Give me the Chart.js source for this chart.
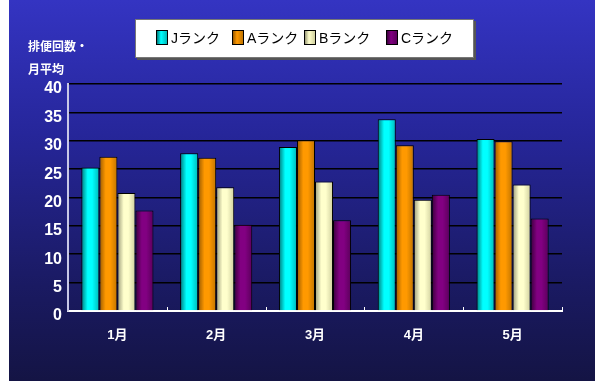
<!DOCTYPE html>
<html lang="ja">
<head>
<meta charset="UTF-8">
<title>排便回数・月平均</title>
<script src="https://cdn.jsdelivr.net/npm/chart.js"></script>
<style>
    html, body { margin: 0; padding: 0; background: #fff; }
    body { width: 595px; height: 381px; position: relative; overflow: hidden; }
    .panel {
        position: absolute; left: 9px; top: 0; width: 586px; height: 381px;
        background: linear-gradient(to bottom, #3434c2 0%, #26269a 35%, #1a1a62 75%, #141444 100%);
    }
    .panel canvas { position: absolute; left: 0; top: 0; }
    .ytitle {
        position: absolute; left: 19px; top: 34px; color: #fff;
        font: bold 12px "Noto Sans CJK JP", sans-serif; line-height: 23px;
    }
    .legend {
        position: absolute; left: 126px; top: 19px; width: 337px; height: 37px;
        background: #fff; border: 1px solid #777; box-shadow: 2px 2px 0 #555;
        font: 14px "Liberation Sans", "Noto Sans CJK JP", sans-serif; color: #000;
    }
    .legend span.item { position: absolute; top: 10px; line-height: 16px; white-space: nowrap; }
    .legend i { display: inline-block; width: 10px; height: 13px; border: 1px solid #000; vertical-align: -2px; margin-right: 3px; }
</style>
</head>
<body>
<div class="panel">
    <canvas id="chart" width="586" height="381"></canvas>
    <div class="ytitle">排便回数・<br>月平均</div>
    <div class="legend" id="legend"></div>
</div>
<script>
    // data
    const months = ['1月', '2月', '3月', '4月', '5月'];
    const seriesNames = ['Jランク', 'Aランク', 'Bランク', 'Cランク'];
    const rankJ = [25.3, 27.8, 28.9, 33.8, 30.3];
    const rankA = [27.2, 27.0, 30.1, 29.2, 29.9];
    const rankB = [20.8, 21.8, 22.8, 19.6, 22.3];
    const rankC = [17.7, 15.2, 16.0, 20.5, 16.3];

    // left shade, highlight, right shade
    const shades = [
        ['#007a7a', '#00ffff', '#00b8b8'],
        ['#9a5a00', '#ff9900', '#c07400'],
        ['#9a9a78', '#ffffcc', '#cfcf9e'],
        ['#3a003a', '#820082', '#5a005a']
    ];

    function barFill(i) {
        return function(ctx) {
            const el = ctx.element;
            if (!el || !el.width) return shades[i][1];
            const c = ctx.chart.ctx;
            const x0 = el.x - el.width / 2;
            const g = c.createLinearGradient(x0, 0, x0 + el.width, 0);
            g.addColorStop(0, shades[i][0]);
            g.addColorStop(0.35, shades[i][1]);
            g.addColorStop(0.6, shades[i][1]);
            g.addColorStop(1, shades[i][2]);
            return g;
        };
    }

    // legend box
    const legendPos = [20, 96, 168, 250];
    const legend = document.getElementById('legend');
    seriesNames.forEach((name, i) => {
        const s = document.createElement('span');
        s.className = 'item';
        s.style.left = legendPos[i] + 'px';
        s.innerHTML = '<i style="background: linear-gradient(to right,' + shades[i][0] + ',' + shades[i][1] + ' 40%,' + shades[i][2] + ')"></i>' + name;
        legend.appendChild(s);
    });

    // little upward ticks between months on the bottom axis
    const innerTicks = {
        id: 'innerTicks',
        afterDraw(chart) {
            const x = chart.scales.x, c = chart.ctx, y = chart.chartArea.bottom;
            c.save();
            c.strokeStyle = '#ffffff';
            c.lineWidth = 1;
            for (let k = 1; k <= months.length; k++) {
                const px = Math.round(x.getPixelForValue(k - 0.5)) + 0.5;
                c.beginPath();
                c.moveTo(px, y);
                c.lineTo(px, y - 4);
                c.stroke();
            }
            c.restore();
        }
    };

    const data = [rankJ, rankA, rankB, rankC];
    const chart = new Chart(document.getElementById('chart'), {
        type: 'bar',
        data: {
            labels: months,
            datasets: data.map((d, i) => ({
                label: seriesNames[i],
                data: d,
                backgroundColor: barFill(i),
                borderColor: '#000',
                borderWidth: 1,
                barPercentage: 1.0,
                categoryPercentage: 0.73
            }))
        },
        plugins: [innerTicks],
        options: {
            responsive: false,
            animation: false,
            layout: { padding: { top: 84, right: 33, left: 0, bottom: 0 } },
            plugins: { legend: { display: false }, tooltip: { enabled: false } },
            scales: {
                x: {
                    grid: { display: false },
                    border: { color: '#ffffff', width: 2 },
                    ticks: { color: '#fff', font: { family: '"Liberation Sans", "Noto Sans CJK JP"', size: 13, weight: 'bold' }, padding: 9 },
                    afterFit(s) { s.height = 70; }
                },
                y: {
                    min: 0, max: 40,
                    ticks: { stepSize: 5, color: '#fff', padding: 6, labelOffset: 5, font: { family: '"Liberation Sans"', size: 16, weight: 'bold' } },
                    grid: { color: '#000', lineWidth: 1.6, drawTicks: false },
                    border: { color: '#c8c8e6', width: 2 },
                    afterFit(s) { s.width = 59; }
                }
            }
        }
    });
    chart.update();
</script>
</body>
</html>
